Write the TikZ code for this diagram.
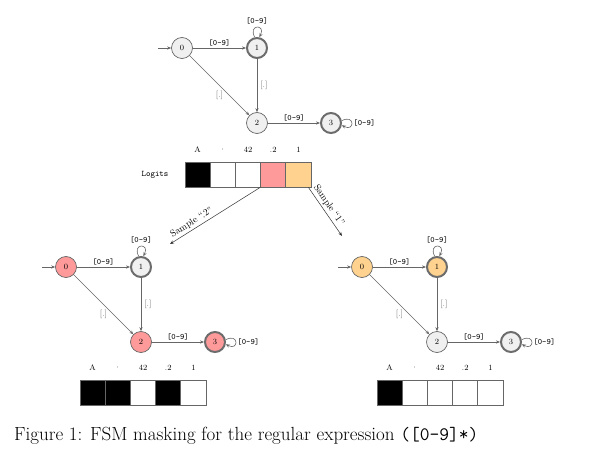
\documentclass[tikz,border=0pt]{standalone}
\usetikzlibrary{arrows.meta,calc}
\definecolor{pinkc}{HTML}{FF9A9A}
\definecolor{orangec}{HTML}{FFD38F}
\definecolor{nodegray}{HTML}{F0F0F0}
\definecolor{edgegray}{HTML}{666666}
\tikzset{
 st/.style={circle, draw=edgegray, line width=0.7pt, minimum size=21pt, inner sep=0pt, font=\fontsize{8}{9}\selectfont},
 acc/.style={st, draw=gray!85!black, line width=2pt, minimum size=20pt},
 tr/.style={draw=edgegray, line width=0.6pt, -{Stealth[length=4pt,width=3.2pt]}},
 lb/.style={font=\ttfamily\fontsize{8.2}{9}\selectfont, inner sep=1.5pt},
 dl/.style={font=\fontsize{8.5}{9}\selectfont, text=edgegray, inner sep=1.5pt},
 cell/.style={rectangle, draw=edgegray, line width=0.8pt, minimum width=25.2pt, minimum height=25pt, inner sep=0pt},
 hd/.style={font=\fontsize{8}{9}\selectfont, inner sep=0pt},
 smp/.style={font=\fontsize{9.5}{10}\selectfont, inner sep=2pt},
}
\newcommand\myfsm[7]{%
\begin{scope}[shift={(#2,#3)}]
\node[st, fill=#4] (#1a) at (0,0) {0};
\node[acc, fill=#5] (#1b) at (75,0) {1};
\node[st, fill=#6] (#1c) at (75,-75) {2};
\node[acc, fill=#7] (#1d) at (149,-75) {3};
\coordinate (#1s) at (-24,0);
\end{scope}
\draw[tr] (#1s) -- (#1a);
\draw[tr] (#1a) -- node[lb, above]{[0-9]} (#1b);
\draw[tr] (#1b.102) .. controls +(118:15pt) and +(62:15pt) .. node[lb, above, inner sep=2.5pt]{[0-9]} (#1b.78);
\draw[tr] (#1b) -- node[dl, right, inner sep=3pt]{[.]} (#1c);
\draw[tr] (#1a) -- node[dl, pos=0.5, below=3.5pt]{[.]} (#1c);
\draw[tr] (#1c) -- node[lb, above]{[0-9]} (#1d);
\draw[tr] (#1d.12) .. controls +(28:15pt) and +(-28:15pt) .. node[lb, right, inner sep=1.5pt]{[0-9]} (#1d.-12);
}
\newcommand\mybar[8]{%
\begin{scope}[shift={(#2,#3)}]
\node[cell, fill=#4] (#1c1) at (12.6,0) {};
\node[cell, fill=#5] (#1c2) at (37.8,0) {};
\node[cell, fill=#6] (#1c3) at (63,0) {};
\node[cell, fill=#7] (#1c4) at (88.2,0) {};
\node[cell, fill=#8] (#1c5) at (113.4,0) {};
\node[hd] (#1h1) at (12.6,25) {A};
\node[hd] (#1h2) at (37.8,25) {$\cdot$};
\node[hd] (#1h3) at (63,25) {42};
\node[hd] (#1h4) at (88.2,25) {.2};
\node[hd] (#1h5) at (113.4,25) {1};
\end{scope}
}
\begin{document}
\begin{tikzpicture}[x=1pt,y=1pt]
\useasboundingbox (0,0) rectangle (596,-454);
\myfsm{t}{182}{-48}{nodegray}{nodegray}{nodegray}{nodegray}
\myfsm{l}{66}{-267}{pinkc}{nodegray}{pinkc}{pinkc}
\myfsm{r}{362}{-267}{orangec}{orangec}{nodegray}{nodegray}
\mybar{g}{185}{-174.5}{black}{white}{white}{pinkc}{orangec}
\mybar{m}{80}{-392.5}{black}{black}{white}{black}{white}
\mybar{n}{377}{-392.5}{black}{white}{white}{white}{white}
\node[font=\ttfamily\fontsize{8.5}{9}\selectfont] (logits) at (155,-175) {Logits};
\coordinate (e1) at (170,-244);
\coordinate (e2) at (342,-236);
\draw[tr, draw=black!80, line width=0.5pt] (gc4.south west) -- node[smp, sloped, above, pos=0.72]{Sample ``.2''} (e1);
\draw[tr, draw=black!80, line width=0.5pt] ($(gc5.south east)+(-3,0)$) -- node[smp, sloped, above, pos=0.45]{Sample ``1''} (e2);
\node[anchor=base west, font=\fontsize{19}{22}\selectfont, inner sep=0pt] (cap) at (14,-440) {Figure 1: FSM masking for the regular expression \texttt{([0-9]*)}};
\end{tikzpicture}
\end{document}
